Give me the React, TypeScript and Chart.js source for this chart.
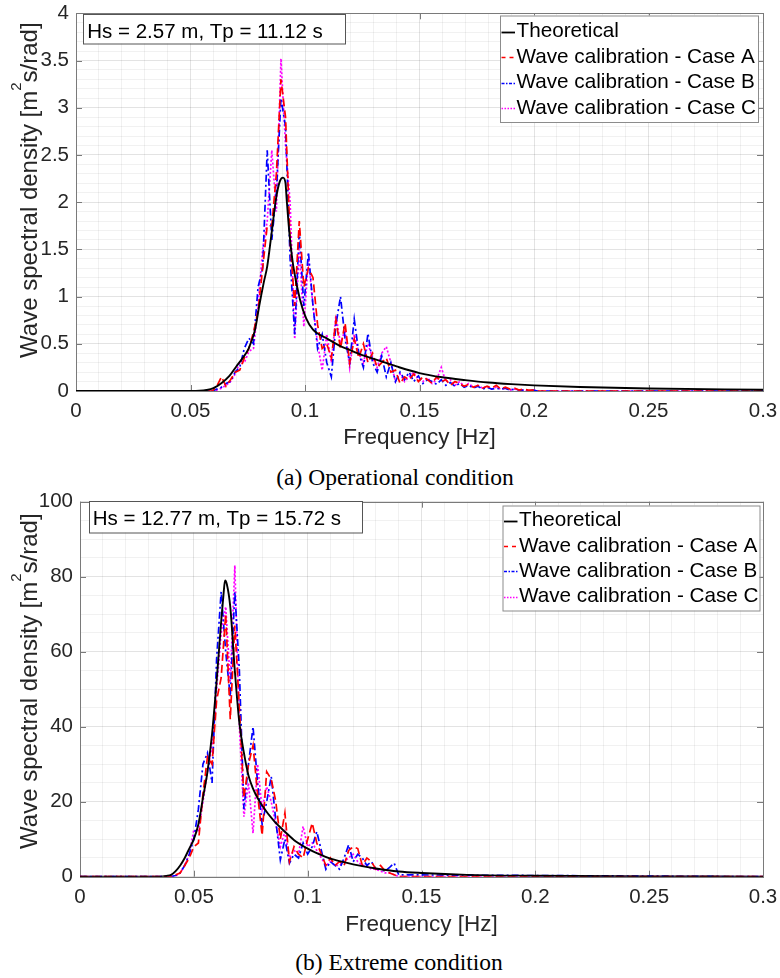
import React, { useEffect, useRef } from 'react';
import { Chart, registerables } from 'chart.js';

Chart.register(...registerables);

const FONT = "'Liberation Sans', Arial, Helvetica, sans-serif";
const SERIF = "'Liberation Serif', 'Times New Roman', serif";

// ---------- shared axis labels ----------
const xTickLabels = ['0', '0.05', '0.1', '0.15', '0.2', '0.25', '0.3'];
const seriesLabels = ['Theoretical', 'Wave calibration - Case A', 'Wave calibration - Case B', 'Wave calibration - Case C'];

// ---------- (a) Operational condition ----------
const topYTickLabels = ['0', '0.5', '1', '1.5', '2', '2.5', '3', '3.5', '4'];
const topTheoFreq = [0, 0.05, 0.054, 0.057, 0.06, 0.0636, 0.067, 0.07, 0.0725, 0.0752, 0.0782, 0.08, 0.082, 0.0835, 0.0854, 0.0873, 0.089, 0.0904, 0.0915, 0.092, 0.0932, 0.0949, 0.0978, 0.1005, 0.1035, 0.11, 0.115, 0.12, 0.125, 0.13, 0.14, 0.15, 0.16, 0.17, 0.18, 0.19, 0.2, 0.22, 0.25, 0.3];
const topTheoValues = [0, 0, 0.002, 0.01, 0.03, 0.085, 0.16, 0.26, 0.34, 0.44, 0.65, 0.9, 1.15, 1.32, 1.67, 2.03, 2.22, 2.26, 2.2, 2.03, 1.67, 1.32, 0.97, 0.77, 0.65, 0.55, 0.48, 0.43, 0.38, 0.34, 0.26, 0.19, 0.145, 0.115, 0.09, 0.073, 0.06, 0.042, 0.026, 0.013];
const topMeasFreq = [0, 0.0595, 0.0615, 0.0635, 0.0655, 0.0675, 0.0695, 0.0715, 0.0735, 0.0755, 0.0775, 0.0795, 0.0815, 0.0835, 0.0855, 0.0875, 0.0895, 0.0915, 0.0935, 0.0955, 0.0975, 0.0995, 0.1015, 0.1035, 0.1055, 0.1075, 0.1095, 0.1115, 0.1135, 0.1155, 0.1175, 0.1195, 0.1215, 0.1235, 0.1255, 0.1275, 0.1295, 0.1315, 0.1335, 0.1355, 0.1375, 0.1395, 0.1415, 0.1435, 0.1455, 0.1475, 0.1495, 0.1515, 0.1535, 0.1555, 0.1575, 0.1595, 0.1615, 0.1635, 0.1655, 0.1675, 0.1695, 0.1715, 0.1735, 0.1755, 0.1775, 0.1795, 0.1815, 0.1835, 0.1855, 0.1875, 0.1895, 0.1915, 0.1935, 0.1955, 0.1975, 0.1995, 0.2015, 0.3];
const topCaseA = [0, 0, 0.05, 0.15, 0.05, 0.12, 0.2, 0.22, 0.35, 0.45, 0.62, 0.85, 1.3, 1.75, 1.75, 2.3, 3.3, 2.9, 1.6, 0.9, 1.8, 1.1, 1.3, 1.2, 0.7, 0.45, 0.5, 0.35, 0.75, 0.45, 0.72, 0.3, 0.55, 0.35, 0.5, 0.3, 0.4, 0.25, 0.3, 0.35, 0.2, 0.22, 0.08, 0.15, 0.12, 0.18, 0.1, 0.15, 0.12, 0.08, 0.15, 0.1, 0.12, 0.06, 0.1, 0.08, 0.05, 0.07, 0.04, 0.06, 0.03, 0.05, 0.03, 0.06, 0.02, 0.04, 0.02, 0.03, 0.01, 0.02, 0.01, 0.01, 0, 0];
const topCaseB = [0, 0, 0.02, 0.04, 0.08, 0.1, 0.2, 0.25, 0.45, 0.56, 0.5, 1.1, 1.3, 2.55, 1.6, 2.1, 3.1, 2.8, 1.4, 0.6, 1.7, 0.9, 1.47, 0.9, 0.45, 0.6, 0.3, 0.15, 0.7, 1.0, 0.55, 0.3, 0.76, 0.4, 0.25, 0.61, 0.3, 0.2, 0.37, 0.15, 0.3, 0.1, 0.2, 0.12, 0.2, 0.1, 0.16, 0.08, 0.12, 0.1, 0.07, 0.12, 0.06, 0.09, 0.05, 0.08, 0.04, 0.06, 0.03, 0.05, 0.02, 0.04, 0.02, 0.03, 0.02, 0.03, 0.01, 0.02, 0.01, 0.01, 0, 0.01, 0, 0];
const topCaseC = [0, 0, 0.01, 0.03, 0.06, 0.1, 0.18, 0.3, 0.3, 0.42, 0.45, 0.9, 1.5, 1.8, 2.55, 1.9, 3.52, 2.6, 2.0, 0.55, 1.5, 0.68, 1.4, 0.9, 0.5, 0.22, 0.6, 0.3, 0.8, 0.5, 0.65, 0.25, 0.6, 0.4, 0.3, 0.5, 0.35, 0.25, 0.4, 0.47, 0.3, 0.1, 0.18, 0.1, 0.15, 0.2, 0.12, 0.1, 0.14, 0.08, 0.12, 0.25, 0.1, 0.12, 0.06, 0.1, 0.05, 0.08, 0.04, 0.06, 0.03, 0.05, 0.02, 0.04, 0.02, 0.03, 0.01, 0.02, 0.01, 0.01, 0, 0.01, 0, 0];

// ---------- (b) Extreme condition ----------
const botYTickLabels = ['0', '20', '40', '60', '80', '100'];
const botTheoFreq = [0, 0.035, 0.038, 0.04, 0.042, 0.044, 0.046, 0.048, 0.05, 0.052, 0.054, 0.056, 0.058, 0.06, 0.062, 0.063, 0.0637, 0.0645, 0.066, 0.068, 0.07, 0.072, 0.074, 0.076, 0.078, 0.08, 0.085, 0.09, 0.095, 0.1, 0.105, 0.11, 0.115, 0.12, 0.13, 0.14, 0.15, 0.17, 0.2, 0.25, 0.3];
const botTheoValues = [0, 0, 0.2, 0.5, 1.5, 3, 5, 7.5, 10, 14, 21, 28, 38, 52, 68, 75, 79, 78, 72, 55, 41, 33, 27, 23.5, 21, 19, 15, 12, 9.3, 7.5, 6, 4.8, 4, 3.3, 2.2, 1.4, 1, 0.5, 0.25, 0.08, 0.03];
const botMeasFreq = [0, 0.04, 0.042, 0.044, 0.046, 0.048, 0.05, 0.052, 0.054, 0.056, 0.058, 0.06, 0.062, 0.064, 0.066, 0.068, 0.07, 0.072, 0.074, 0.076, 0.078, 0.08, 0.082, 0.084, 0.086, 0.088, 0.09, 0.092, 0.094, 0.096, 0.098, 0.1, 0.102, 0.104, 0.106, 0.108, 0.11, 0.112, 0.114, 0.116, 0.118, 0.12, 0.122, 0.124, 0.126, 0.128, 0.13, 0.132, 0.134, 0.136, 0.138, 0.14, 0.3];
const botCaseA = [0, 0, 0.5, 1, 3, 5, 8, 9, 22, 32, 30, 47, 53, 70, 42, 67, 45, 21, 30, 35, 22, 11, 28, 26, 20, 10, 17, 4, 8, 6, 5, 10, 14.3, 9, 6, 3, 5, 3, 4, 3, 7, 8, 7.5, 3, 5, 4, 2, 3, 1.5, 1, 0.5, 0, 0];
const botCaseB = [0, 0, 0.3, 1, 3, 6, 10, 18, 30, 33, 25, 58, 76, 60, 48, 76, 55, 18, 30, 40, 25, 14, 20, 26.7, 15, 4.5, 10, 3.6, 6, 5, 9, 6, 8, 12, 7, 2, 4, 3, 2, 5, 8.5, 4, 6, 5, 3, 4, 2, 2, 1.5, 2.5, 3.6, 0.5, 0];
const botCaseC = [0, 0, 0.2, 1, 3, 6, 12.5, 12, 20, 28, 35, 50, 65, 72, 52, 83, 40, 16, 25, 11.6, 30, 18, 24, 20, 14, 8, 12, 5, 7, 6, 13.4, 8, 9, 7, 5, 3, 4, 3, 3, 4, 5, 6, 4, 3, 3, 2, 2, 1.5, 1, 1, 0.5, 0, 0];

const MAJOR_GRID = 'rgba(0,0,0,0.11)';
const MINOR_GRID = 'rgba(0,0,0,0.055)';
const AXIS_COLOR = '#7a7a7a';
const TEXT_COLOR = '#262626';

type PanelCfg = {
  theoFreq: number[]; theoVals: number[];
  measFreq: number[]; a: number[]; b: number[]; c: number[];
  yMax: number; yStep: number; yLabelEvery: number; yLabels: string[];
  yAxisWidth: number; padTop: number; xAxisHeight: number; xTitlePad: number;
  yTitleShift: number; annot: string;
  annotRect: number[]; annotText: number[];
  legendRect: number[]; legendFirst: number; legendGap: number;
};

const toXY = (xs: number[], ys: number[]) => xs.map((x, i) => ({ x, y: ys[i] }));

const dashes: (number[] | null)[] = [null, [8, 4], [7, 3, 2, 3], [2, 2]];
const colors = ['#000000', '#ff0000', '#0000ff', '#ff00ff'];

function panelPlugin(cfg: PanelCfg) {
  return {
    id: 'panelDecor',
    beforeDatasetsDraw(chart: any) {
      const { ctx, chartArea: ca, scales } = chart;
      ctx.save();
      ctx.strokeStyle = AXIS_COLOR;
      ctx.lineWidth = 1;
      ctx.strokeRect(Math.round(ca.left) + 0.5, Math.round(ca.top) + 0.5, Math.round(ca.right - ca.left), Math.round(ca.bottom - ca.top));
      ctx.beginPath();
      xTickLabels.forEach((t) => {
        const px = Math.round(scales.x.getPixelForValue(parseFloat(t))) + 0.5;
        ctx.moveTo(px, ca.bottom); ctx.lineTo(px, ca.bottom - 6);
        ctx.moveTo(px, ca.top); ctx.lineTo(px, ca.top + 6);
      });
      cfg.yLabels.forEach((t) => {
        const py = Math.round(scales.y.getPixelForValue(parseFloat(t))) + 0.5;
        ctx.moveTo(ca.left, py); ctx.lineTo(ca.left + 6, py);
        ctx.moveTo(ca.right, py); ctx.lineTo(ca.right - 6, py);
      });
      ctx.stroke();
      ctx.restore();
    },
    afterDraw(chart: any) {
      const { ctx, chartArea: ca } = chart;
      ctx.save();
      const cy = (ca.top + ca.bottom) / 2 + cfg.yTitleShift;
      ctx.translate(37, cy);
      ctx.rotate(-Math.PI / 2);
      ctx.fillStyle = TEXT_COLOR;
      ctx.textBaseline = 'alphabetic';
      ctx.textAlign = 'left';
      const p1 = 'Wave spectral density [m';
      const p2 = '2';
      const p3 = 's/rad]';
      ctx.font = `24px ${FONT}`;
      const w1 = ctx.measureText(p1).width;
      const w3 = ctx.measureText(p3).width;
      ctx.font = `15px ${FONT}`;
      const w2 = ctx.measureText(p2).width;
      let x = -(w1 + w2 + w3) / 2;
      ctx.font = `24px ${FONT}`;
      ctx.fillText(p1, x, 0);
      x += w1;
      ctx.font = `15px ${FONT}`;
      ctx.fillText(p2, x, -16);
      x += w2;
      ctx.font = `24px ${FONT}`;
      ctx.fillText(p3, x, 0);
      ctx.restore();

      ctx.save();
      const [ax, ay, aw, ah] = cfg.annotRect;
      ctx.fillStyle = '#ffffff';
      ctx.fillRect(ax, ay, aw, ah);
      ctx.strokeStyle = '#555555';
      ctx.lineWidth = 1;
      ctx.strokeRect(ax + 0.5, ay + 0.5, aw, ah);
      ctx.fillStyle = '#000000';
      ctx.font = `20.5px ${FONT}`;
      ctx.textBaseline = 'alphabetic';
      ctx.textAlign = 'left';
      ctx.fillText(cfg.annot, cfg.annotText[0], cfg.annotText[1]);
      ctx.restore();

      ctx.save();
      const [lx, ly, lw, lh] = cfg.legendRect;
      ctx.fillStyle = '#ffffff';
      ctx.fillRect(lx, ly, lw, lh);
      ctx.strokeStyle = '#8c8c8c';
      ctx.lineWidth = 1;
      ctx.strokeRect(lx + 0.5, ly + 0.5, lw, lh);
      ctx.font = `20.7px ${FONT}`;
      ctx.textBaseline = 'middle';
      ctx.textAlign = 'left';
      seriesLabels.forEach((label, i) => {
        const yy = cfg.legendFirst + i * cfg.legendGap;
        ctx.save();
        ctx.strokeStyle = colors[i];
        ctx.lineWidth = i === 0 ? 1.8 : 1.6;
        if (i === 0) ctx.setLineDash([]);
        if (i === 1) ctx.setLineDash([4, 4]);
        if (i === 2) ctx.setLineDash([3, 1.5, 1.5, 1.5]);
        if (i === 3) ctx.setLineDash([1.5, 1.5]);
        ctx.beginPath();
        ctx.moveTo(lx + 1.5, Math.round(yy) + 0.5);
        ctx.lineTo(lx + 15, Math.round(yy) + 0.5);
        ctx.stroke();
        ctx.restore();
        ctx.fillStyle = '#000000';
        ctx.fillText(label, lx + 16.5, yy);
      });
      ctx.restore();
    },
  };
}

function Panel({ cfg, top }: { cfg: PanelCfg; top: number }) {
  const ref = useRef<HTMLCanvasElement | null>(null);
  useEffect(() => {
    if (!ref.current) return;
    const tickFont = { family: FONT, size: 20.5 };
    const chart = new Chart(ref.current, {
      type: 'line',
      data: {
        datasets: [
          { label: seriesLabels[0], data: toXY(cfg.theoFreq, cfg.theoVals), borderColor: colors[0], borderWidth: 1.9, pointRadius: 0, cubicInterpolationMode: 'monotone' },
          { label: seriesLabels[1], data: toXY(cfg.measFreq, cfg.a), borderColor: colors[1], borderWidth: 1.7, borderDash: dashes[1] as number[], pointRadius: 0 },
          { label: seriesLabels[2], data: toXY(cfg.measFreq, cfg.b), borderColor: colors[2], borderWidth: 1.7, borderDash: dashes[2] as number[], pointRadius: 0 },
          { label: seriesLabels[3], data: toXY(cfg.measFreq, cfg.c), borderColor: colors[3], borderWidth: 1.7, borderDash: dashes[3] as number[], pointRadius: 0 },
        ] as any,
      },
      options: {
        responsive: false,
        animation: false,
        events: [],
        layout: { padding: { left: 0, right: 17, top: cfg.padTop, bottom: 0 } },
        plugins: { legend: { display: false }, tooltip: { enabled: false } },
        scales: {
          x: {
            type: 'linear',
            min: 0,
            max: 0.3,
            ticks: {
              stepSize: 0.01,
              autoSkip: false,
              maxRotation: 0,
              padding: 8,
              font: tickFont,
              color: TEXT_COLOR,
              callback: (_v: any, i: number) => (i % 5 === 0 ? xTickLabels[i / 5] ?? '' : ''),
            },
            grid: { color: (c: any) => (c.index % 5 === 0 ? MAJOR_GRID : MINOR_GRID), drawTicks: false, lineWidth: 1 },
            border: { display: false },
            title: { display: true, text: 'Frequency [Hz]', font: { family: FONT, size: 22.5 }, color: TEXT_COLOR, padding: { top: 0, bottom: cfg.xTitlePad } },
            afterFit: (s: any) => { s.height = cfg.xAxisHeight; s.paddingLeft = 0; s.paddingRight = 0; },
          },
          y: {
            type: 'linear',
            min: 0,
            max: cfg.yMax,
            ticks: {
              stepSize: cfg.yStep,
              autoSkip: false,
              padding: 7,
              font: tickFont,
              color: TEXT_COLOR,
              callback: (_v: any, i: number) => (i % cfg.yLabelEvery === 0 ? cfg.yLabels[i / cfg.yLabelEvery] ?? '' : ''),
            },
            grid: { color: (c: any) => (c.index % cfg.yLabelEvery === 0 ? MAJOR_GRID : MINOR_GRID), drawTicks: false, lineWidth: 1 },
            border: { display: false },
            afterFit: (s: any) => { s.width = cfg.yAxisWidth; s.paddingTop = 0; s.paddingBottom = 0; },
          },
        },
      } as any,
      plugins: [panelPlugin(cfg)],
    });
    return () => chart.destroy();
  }, [cfg]);
  return (
    <canvas
      ref={ref}
      width={780}
      height={455}
      style={{ position: 'absolute', left: 0, top, width: 780, height: 455 }}
    />
  );
}

const topCfg: PanelCfg = {
  theoFreq: topTheoFreq, theoVals: topTheoValues,
  measFreq: topMeasFreq, a: topCaseA, b: topCaseB, c: topCaseC,
  yMax: 4, yStep: 0.1, yLabelEvery: 5, yLabels: topYTickLabels,
  yAxisWidth: 76, padTop: 13.3, xAxisHeight: 64, xTitlePad: 3.5,
  yTitleShift: -12, annot: 'Hs = 2.57 m, Tp = 11.12 s',
  annotRect: [83, 14, 262, 29.5], annotText: [87.3, 37.5],
  legendRect: [500, 15.5, 258, 106.5], legendFirst: 31.7, legendGap: 25.5,
};

const botCfg: PanelCfg = {
  theoFreq: botTheoFreq, theoVals: botTheoValues,
  measFreq: botMeasFreq, a: botCaseA, b: botCaseB, c: botCaseC,
  yMax: 100, yStep: 5, yLabelEvery: 4, yLabels: botYTickLabels,
  yAxisWidth: 80, padTop: 13.7, xAxisHeight: 66.3, xTitlePad: 4.5,
  yTitleShift: -8, annot: 'Hs = 12.77 m, Tp = 15.72 s',
  annotRect: [89, 13, 273, 31.5], annotText: [92.7, 37],
  legendRect: [502.5, 17.5, 257, 105], legendFirst: 32.7, legendGap: 25.3,
};

export default function App() {
  const captionStyle = (top: number, left: number): React.CSSProperties => ({
    position: 'absolute',
    top,
    left,
    width: 780,
    height: 30,
    lineHeight: '30px',
    textAlign: 'center',
    fontFamily: SERIF,
    fontSize: 23.5,
    color: '#000',
  });
  return (
    <div style={{ position: 'absolute', left: 0, top: 0, width: 780, height: 978, background: '#ffffff', overflow: 'hidden' }}>
      <Panel cfg={topCfg} top={0} />
      <div style={captionStyle(462, 5)}>(a) Operational condition</div>
      <Panel cfg={botCfg} top={488} />
      <div style={captionStyle(947, 9)}>(b) Extreme condition</div>
    </div>
  );
}
